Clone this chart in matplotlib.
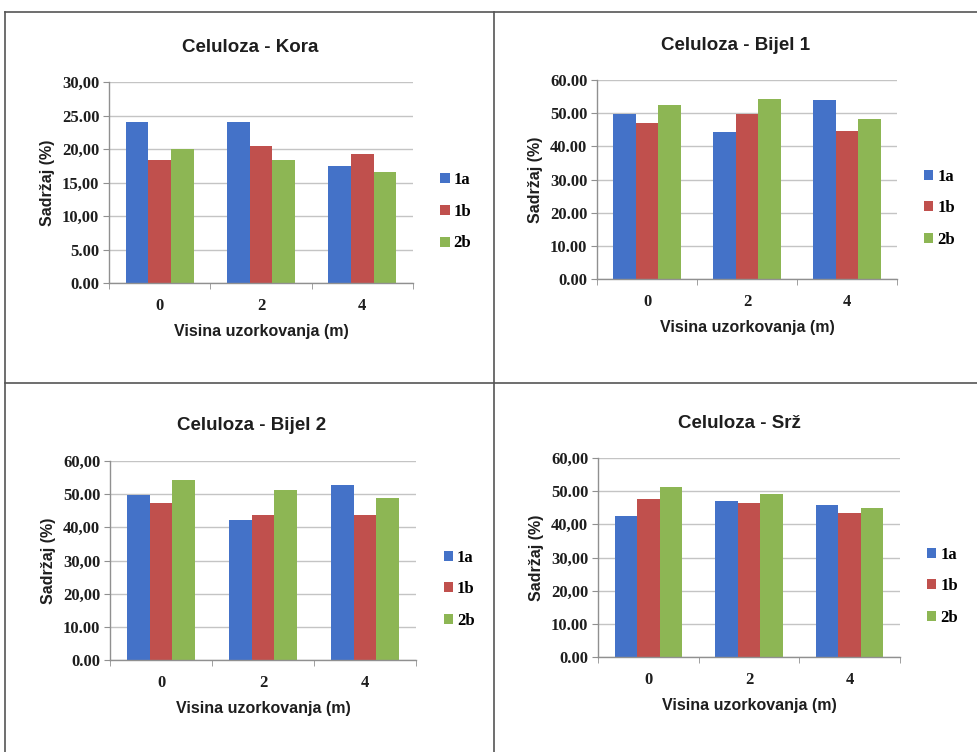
import matplotlib.pyplot as plt
from matplotlib.lines import Line2D
import numpy as np

# visine uzorkovanja i uzorci
visine = ['0', '2', '4']
uzorci = ['1a', '1b', '2b']
boje = ['#4472C8', '#C0504D', '#8DB654']

# udio celuloze (%) po dijelu stabla: redovi = uzorci, stupci = visine
kora = [[24.0, 24.1, 17.5],
        [18.3, 20.5, 19.3],
        [20.0, 18.4, 16.6]]
bijel1 = [[49.6, 44.3, 53.9],
          [46.9, 49.6, 44.7],
          [52.6, 54.3, 48.3]]
bijel2 = [[49.8, 42.2, 52.7],
          [47.2, 43.8, 43.8],
          [54.3, 51.3, 48.7]]
srz = [[42.4, 47.0, 45.7],
       [47.7, 46.4, 43.5],
       [51.3, 49.0, 45.0]]

naslovi = ['Celuloza - Kora', 'Celuloza - Bijel 1', 'Celuloza - Bijel 2', 'Celuloza - Srž']
podaci = [kora, bijel1, bijel2, srz]
y_max = [30, 60, 60, 60]
y_korak = [5, 10, 10, 10]
y_oznake = [['0.00', '5.00', '10,00', '15,00', '20,00', '25.00', '30,00'],
            ['0.00', '10.00', '20.00', '30.00', '40.00', '50.00', '60.00'],
            ['0.00', '10.00', '20,00', '30,00', '40,00', '50.00', '60,00'],
            ['0.00', '10.00', '20,00', '30,00', '40,00', '50.00', '60,00']]

W, H = 977, 752
fig = plt.figure(figsize=(W / 100, H / 100), dpi=100)

# okviri grafova u pikselima: lijevo, gore, desno, dolje
okviri = [(109, 82, 413, 283), (597, 80, 897, 279),
          (110, 461, 416, 660), (598, 458, 900, 657)]
naslov_xy = [(250, 47), (736, 45), (252, 425), (739, 423)]

serif = dict(family='Liberation Serif', weight='bold')
sans = dict(family='Liberation Sans', weight='bold')
tekst = '#1e1e1e'

sirina = 0.224
x = np.arange(len(visine))
for k in range(4):
    l, t, r, b = okviri[k]
    ax = fig.add_axes([l / W, 1 - b / H, (r - l) / W, (b - t) / H])
    for i, uz in enumerate(uzorci):
        ax.bar(x + (i - 1) * sirina, podaci[k][i], sirina, color=boje[i], label=uz, zorder=2)
    ax.set_xlim(-0.5, 2.5)
    ax.set_ylim(0, y_max[k])
    ticks = np.arange(0, y_max[k] + 0.1, y_korak[k])
    ax.set_yticks(ticks)
    ax.set_yticklabels(y_oznake[k], fontsize=12, color=tekst, **serif)
    ax.set_xticks(x)
    ax.set_xticklabels(visine, fontsize=12, color=tekst, **serif)
    ax.set_xticks([-0.5, 0.5, 1.5, 2.5], minor=True)
    ax.tick_params(axis='x', which='major', length=0, pad=11)
    ax.tick_params(axis='x', which='minor', length=4, color='#909090', direction='out')
    ax.tick_params(axis='y', length=4, color='#909090', pad=3)
    ax.yaxis.grid(True, color='#c4c4c4', linewidth=1, zorder=0)
    ax.set_axisbelow(True)
    for s in ['top', 'right']:
        ax.spines[s].set_visible(False)
    for s in ['left', 'bottom']:
        ax.spines[s].set_color('#909090')
        ax.spines[s].set_linewidth(1)
    ax.set_xlabel('Visina uzorkovanja (m)', fontsize=11.5, color=tekst, labelpad=7, **sans)
    ax.set_ylabel('Sadržaj (%)', fontsize=11.5, color=tekst, labelpad=5, **sans)
    ax.legend(loc='center left', bbox_to_anchor=(1.09, 0.355), frameon=False,
              handlelength=0.55, handleheight=0.55, handletextpad=0.25,
              labelspacing=0.95, borderpad=0, borderaxespad=0,
              prop=dict(family='Liberation Serif', weight='bold', size=12))
    tx, ty = naslov_xy[k]
    fig.text(tx / W, 1 - ty / H, naslovi[k], ha='center', va='center',
             fontsize=13.5, color=tekst, **sans)

# rubovi tablice oko grafova
linije = [((5, 977), (12, 12)), ((5, 5), (12, 752)),
          ((494, 494), (12, 752)), ((5, 977), (383, 383))]
for xs, ys in linije:
    fig.add_artist(Line2D([xx / W for xx in xs], [1 - yy / H for yy in ys],
                          transform=fig.transFigure, color='#555555', linewidth=1.2))

fig.savefig('out.png', dpi=100)
